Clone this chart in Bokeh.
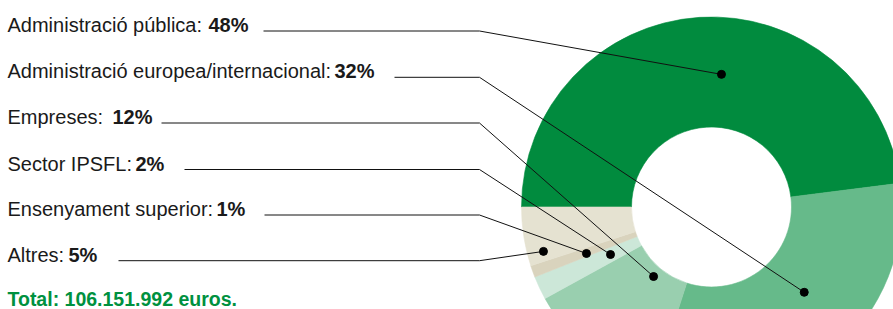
import math
from bokeh.plotting import figure
from bokeh.models import Range1d, ColumnDataSource
from bokeh.core.properties import value
from bokeh.embed import file_html
from bokeh.resources import INLINE

# ---- data ----
categories = ["Administració pública", "Administració europea/internacional",
              "Empreses", "Sector IPSFL", "Ensenyament superior", "Altres"]
shares = [48, 32, 12, 2, 1, 5]
colors = ["#018B3E", "#66BA8A", "#99CFAF", "#CCE7D8", "#D9D3BD", "#E5E2D1"]
total_text = "Total: 106.151.992 euros."

# ---- layout (pixel space of the picture; y grows downward) ----
CX, CY = 711, 206.5
R_IN, R_OUT = 80, 190
row_base = [32, 78.3, 124, 170.5, 216, 261.7]
pct_x = [208, 334, 112, 135, 216, 68]
line_x0 = [263, 394, 161, 184, 264, 118]
knee_x = 479
anchor_deg = [85.7, -42.6, -129.8, -154.8, -159.6, -165.2]
anchor_r = [133, 126, 90.5, 111.6, 133.4, 173.8]
TXT_DY = 7.5
FONT = value("Liberation Sans")
FS = value("20px")

p = figure(width=893, height=309, x_range=Range1d(0, 893), y_range=Range1d(-309, 0),
           output_backend="svg", toolbar_location=None, min_border=0)
p.axis.visible = False
p.grid.visible = False
p.outline_line_color = None
p.background_fill_color = "white"
p.border_fill_color = "white"

# donut
starts, ends, cum = [], [], 0
for s in shares:
    starts.append(math.radians(180 - cum * 3.6))
    cum += s
    ends.append(math.radians(180 - cum * 3.6))
src = ColumnDataSource(dict(start=starts, end=ends, color=colors))
p.annular_wedge(x=CX, y=-CY, inner_radius=R_IN, outer_radius=R_OUT,
                start_angle="start", end_angle="end",
                direction="clock", fill_color="color", line_color="color",
                line_width=0.6, source=src)

# leaders
ax = [CX + r * math.cos(math.radians(a)) for a, r in zip(anchor_deg, anchor_r)]
ay = [-(CY - r * math.sin(math.radians(a))) for a, r in zip(anchor_deg, anchor_r)]
xs, ys = [], []
for i in range(len(categories)):
    ly = -(row_base[i] - 1.5)
    xs.append([line_x0[i], knee_x, ax[i]])
    ys.append([ly, ly, ay[i]])
p.multi_line(xs=xs, ys=ys, line_color="#111111", line_width=1)
p.scatter(x=ax, y=ay, size=8, color="black")

# labels
ty = [-(b - TXT_DY) for b in row_base]
p.text(x=[7] * len(categories), y=ty,
       text=[c + ":" for c in categories], text_font=FONT, text_font_size=FS,
       text_color="#1a1a1a", text_baseline="alphabetic", text_align="left")
p.text(x=pct_x, y=ty, text=[f"{s}%" for s in shares],
       text_font=FONT, text_font_size=FS, text_font_style="bold",
       text_color="#1a1a1a", text_baseline="alphabetic", text_align="left")
p.text(x=[7], y=[-(306 - TXT_DY)], text=[total_text], text_font=FONT,
       text_font_size=value("19.5px"),
       text_font_style="bold", text_color="#00913F",
       text_baseline="alphabetic", text_align="left")

open("out.html", "w").write(file_html(p, INLINE))
